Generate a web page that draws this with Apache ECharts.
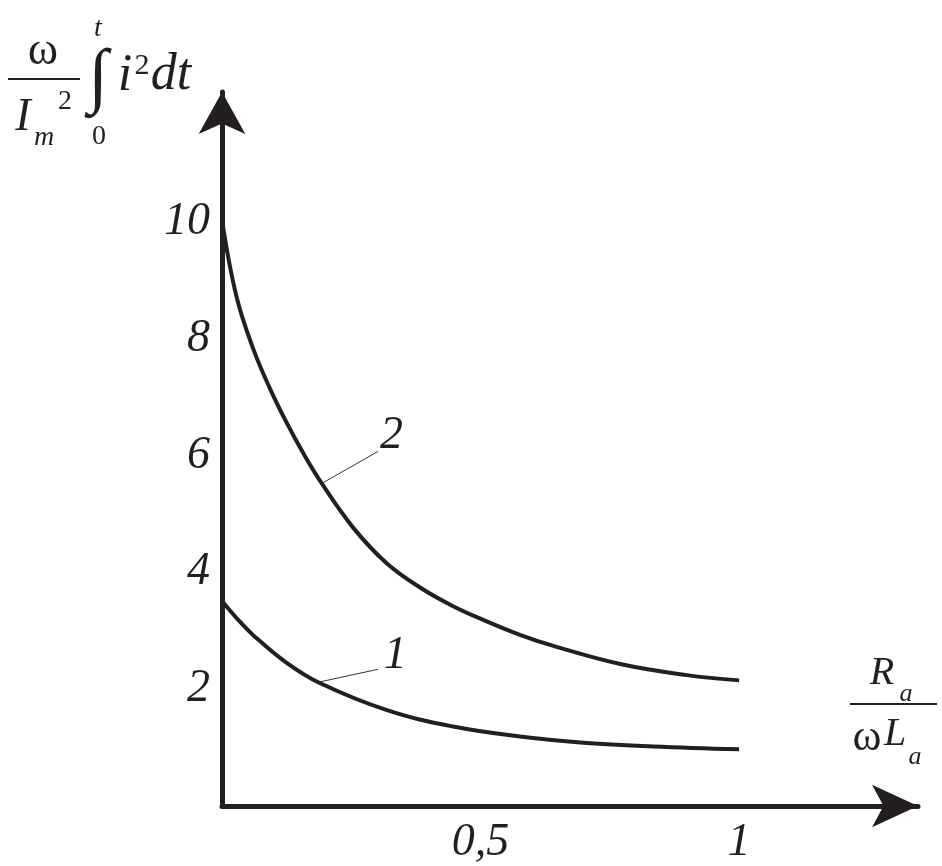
<!DOCTYPE html>
<html>
<head>
<meta charset="utf-8">
<script src="https://cdn.jsdelivr.net/npm/echarts@6/dist/echarts.min.js"></script>
<style>html,body{margin:0;padding:0;background:#fff}#c{width:942px;height:866px}</style>
</head>
<body>
<div id="c"></div>
<script>
// Data: x = Ra/(ωLa), y = (ω/Im²)∫ i² dt
const curve2 = [[0,10.03],[0.028,8.72],[0.061,7.81],[0.093,7.14],[0.125,6.56],[0.157,6.04],[0.19,5.56],[0.254,4.76],[0.319,4.15],[0.383,3.74],[0.447,3.42],[0.512,3.16],[0.576,2.93],[0.641,2.74],[0.77,2.43],[0.899,2.24],[1,2.15]];
const curve1 = [[0,3.51],[0.03,3.2],[0.061,2.92],[0.125,2.45],[0.19,2.1],[0.319,1.64],[0.447,1.36],[0.576,1.19],[0.705,1.08],[0.834,1.02],[1,0.97]];
const leader2 = [[0.193,5.52],[0.302,6.07]];
const leader1 = [[0.187,2.12],[0.302,2.34]];
const curveLabels = [[0.328,6.33,'2'],[0.335,2.57,'1']];
const xTickLabels = {0.5:'0,5', 1:'1'};
const yTickLabels = {2:'2', 4:'4', 6:'6', 8:'8', 10:'10'};

const ink = '#231f20';
const serif = '"Liberation Serif", "DejaVu Serif", serif';
const chart = echarts.init(document.getElementById('c'), null, {renderer:'canvas'});

function txt(t, x, y, size, italic, align){
  return {type:'text', style:{text:t, x:x, y:y, fontSize:size, fontFamily:serif,
    fontStyle: italic ? 'italic' : 'normal', fill:ink, align: align||'center', verticalAlign:'middle'}};
}

chart.setOption({
  animation:false,
  grid:{left:222, width:696, bottom:59, top:92, containLabel:false},
  xAxis:{type:'value', min:0, max:1.346, interval:0.5,
    axisLine:{show:true, onZero:false, lineStyle:{color:ink, width:5}, symbol:['none','arrow'], symbolSize:[32,46]},
    axisTick:{show:false}, splitLine:{show:false},
    axisLabel:{margin:14, fontSize:46, fontFamily:serif, fontStyle:'italic', color:ink,
      formatter:v => xTickLabels[v] || ''}},
  yAxis:{type:'value', min:0, max:12.22, interval:2,
    axisLine:{show:true, onZero:false, lineStyle:{color:ink, width:5}, symbol:['none','arrow'], symbolSize:[35,42]},
    axisTick:{show:false}, splitLine:{show:false},
    axisLabel:{margin:12, fontSize:46, fontFamily:serif, fontStyle:'italic', color:ink,
      formatter:v => yTickLabels[v] || ''}},
  series:[
    {type:'line', data:curve2, smooth:0.4, symbol:'none', lineStyle:{color:ink, width:4}},
    {type:'line', data:curve1, smooth:0.4, symbol:'none', lineStyle:{color:ink, width:4}},
    {type:'line', data:leader2, symbol:'none', lineStyle:{color:'#333', width:1}},
    {type:'line', data:leader1, symbol:'none', lineStyle:{color:'#333', width:1}},
    {type:'scatter', data:curveLabels, symbolSize:0, itemStyle:{opacity:1},
      label:{show:true, position:'inside', formatter:p => p.data[2], fontSize:46, fontFamily:serif, fontStyle:'italic', color:ink, textBorderWidth:0, opacity:1}}
  ],
  graphic:[
    // y-axis title
    txt('ω', 43, 52, 46, false),
    {type:'line', shape:{x1:8, y1:79, x2:80, y2:79}, style:{stroke:ink, lineWidth:2}},
    txt('I', 23, 118, 46, true),
    txt('m', 44, 138, 28, true),
    txt('2', 65, 102, 28, false),
    txt('∫', 98, 80, 72, false),
    txt('t', 98, 29, 28, true),
    txt('0', 99, 137, 28, false),
    txt('i', 125, 76, 52, true),
    txt('2', 142, 66, 30, false),
    txt('dt', 171, 75, 52, true),
    // x-axis title
    txt('R', 882, 673, 40, true),
    txt('a', 906, 694, 26, true),
    {type:'line', shape:{x1:850, y1:704, x2:937, y2:704}, style:{stroke:ink, lineWidth:2}},
    txt('ω', 867, 738, 44, false),
    txt('L', 895, 734, 40, true),
    txt('a', 915, 757, 26, true)
  ]
});
</script>
</body>
</html>
